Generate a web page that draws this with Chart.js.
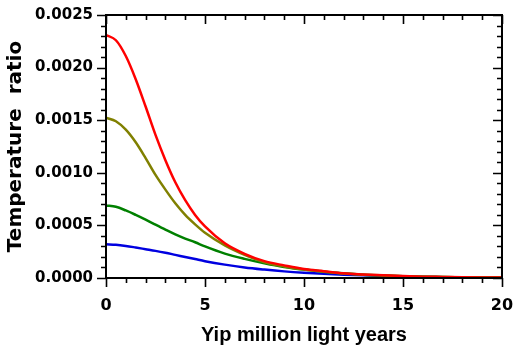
<!DOCTYPE html>
<html>
<head>
<meta charset="utf-8">
<script src="https://cdn.jsdelivr.net/npm/chart.js@4/dist/chart.umd.min.js"></script>
<style>
  html, body { margin: 0; padding: 0; background: #fff; }
  #wrap { width: 514px; height: 347px; }
</style>
</head>
<body>
<div id="wrap"><canvas id="tempChart"></canvas></div>
<script>
// distance in million light years
const distance = [0, 0.5, 1, 1.5, 2, 2.5, 3, 3.5, 4, 4.5, 5,
    6, 7, 8, 9, 10, 11, 12, 13, 14, 15, 16, 17, 18, 19, 20];

// temperature ratio curves
const redRatio = [0.00231, 0.00226, 0.00211, 0.00189, 0.00163, 0.00136, 0.00112, 0.00091, 0.00074, 0.00060, 0.00049,
    0.00033, 0.00023, 0.00016, 0.00012, 0.000085, 0.000065, 0.000045, 0.000034, 0.000025, 0.000018, 0.000013, 0.00001, 0.000007, 0.000005, 0.000004];
const oliveRatio = [0.001524, 0.00149, 0.00141, 0.00129, 0.00114, 0.00098, 0.00084, 0.00071, 0.00060, 0.00051, 0.00043,
    0.00031, 0.00022, 0.00015, 0.00011, 0.00008, 0.00006, 0.000043, 0.000032, 0.000024, 0.000017, 0.000012, 0.000009, 0.000007, 0.000005, 0.000004];
const greenRatio = [0.00069, 0.000677, 0.000642, 0.0006, 0.000555, 0.000507, 0.00046, 0.000415, 0.000375, 0.00034, 0.0003,
    0.000232, 0.000182, 0.00014, 0.000105, 0.00008, 0.00006, 0.000044, 0.000032, 0.000024, 0.000017, 0.000012, 0.000009, 0.000007, 0.000005, 0.000004];
const blueRatio = [0.00032, 0.000316, 0.000305, 0.00029, 0.000274, 0.000258, 0.00024, 0.00022, 0.0002, 0.00018, 0.00016,
    0.000127, 0.0001, 0.00008, 0.000063, 0.00005, 0.00004, 0.000032, 0.000025, 0.000019, 0.000014, 0.00001, 0.000008, 0.000006, 0.000005, 0.000004];

// axis ticks
const xMajorTicks = [0, 5, 10, 15, 20];
const yMajorTicks = ['0.0000', '0.0005', '0.0010', '0.0015', '0.0020', '0.0025'];

const toPoints = values => values.map((v, i) => ({ x: distance[i], y: v }));

const lineSet = (values, color) => ({
    data: toPoints(values),
    borderColor: color,
    borderWidth: 2.5,
    pointRadius: 0,
    fill: false,
    cubicInterpolationMode: 'monotone'
});

// frame plus minor/major tick marks on all four sides
const frameTicks = {
    id: 'frameTicks',
    afterDraw(chart) {
        const { ctx, chartArea: a, scales: { x, y } } = chart;
        ctx.save();
        ctx.strokeStyle = '#000';
        ctx.lineWidth = 2;
        ctx.strokeRect(a.left, a.top, a.right - a.left, a.bottom - a.top);
        ctx.lineWidth = 1.6;
        ctx.beginPath();
        for (let i = 0; i <= 20; i++) {
            const px = Math.round(x.getPixelForValue(i)) + 0.5;
            const len = i % 5 === 0 ? 9 : 5;
            ctx.moveTo(px, a.bottom); ctx.lineTo(px, a.bottom + len);
            ctx.moveTo(px, a.top); ctx.lineTo(px, a.top + len);
        }
        for (let i = 0; i <= 25; i++) {
            const py = Math.round(y.getPixelForValue(i * 0.0001)) + 0.5;
            const len = i % 5 === 0 ? 9 : 5;
            ctx.moveTo(a.left, py); ctx.lineTo(a.left - len, py);
            ctx.moveTo(a.right, py); ctx.lineTo(a.right - len, py);
        }
        ctx.stroke();
        ctx.restore();
    }
};

new Chart(document.getElementById('tempChart'), {
    type: 'line',
    data: {
        datasets: [
            lineSet(redRatio, '#ff0000'),
            lineSet(oliveRatio, '#808000'),
            lineSet(greenRatio, '#008000'),
            lineSet(blueRatio, '#0000e0')
        ]
    },
    plugins: [frameTicks],
    options: {
        responsive: true,
        maintainAspectRatio: false,
        animation: false,
        layout: { padding: { top: 15, right: 12, left: 0, bottom: 0 } },
        plugins: { legend: { display: false }, tooltip: { enabled: false } },
        scales: {
            x: {
                type: 'linear',
                min: 0,
                max: 20,
                afterFit: s => { s.height = 69; s.paddingLeft = 0; s.paddingRight = 0; },
                afterBuildTicks: s => { s.ticks = xMajorTicks.map(v => ({ value: v })); },
                border: { display: false },
                grid: { drawOnChartArea: false, tickLength: 9, tickColor: 'rgba(0,0,0,0)' },
                ticks: {
                    font: { family: 'DejaVu Sans', weight: 'bold', size: 16 },
                    color: '#000', padding: 9, maxRotation: 0, autoSkip: false
                },
                title: {
                    display: true,
                    text: 'Yip million light years',
                    color: '#000',
                    font: { family: 'Liberation Sans', weight: 'bold', size: 20 },
                    padding: { top: 0, bottom: 0 }
                }
            },
            y: {
                min: 0,
                max: 0.0025,
                afterFit: s => { s.width = 106; s.paddingTop = 0; s.paddingBottom = 0; },
                afterBuildTicks: s => { s.ticks = yMajorTicks.map(t => ({ value: parseFloat(t) })); },
                border: { display: false },
                grid: { drawOnChartArea: false, tickLength: 9, tickColor: 'rgba(0,0,0,0)' },
                ticks: {
                    font: { family: 'DejaVu Sans', weight: 'bold', size: 15 },
                    color: '#000',
                    padding: 4,
                    callback: (v, i) => yMajorTicks[i]
                },
                title: {
                    display: true,
                    text: 'Temperature  ratio',
                    color: '#000',
                    font: { family: 'DejaVu Sans', weight: 'bold', size: 20 },
                    padding: { top: 4, bottom: 0 }
                }
            }
        }
    }
});
</script>
</body>
</html>
